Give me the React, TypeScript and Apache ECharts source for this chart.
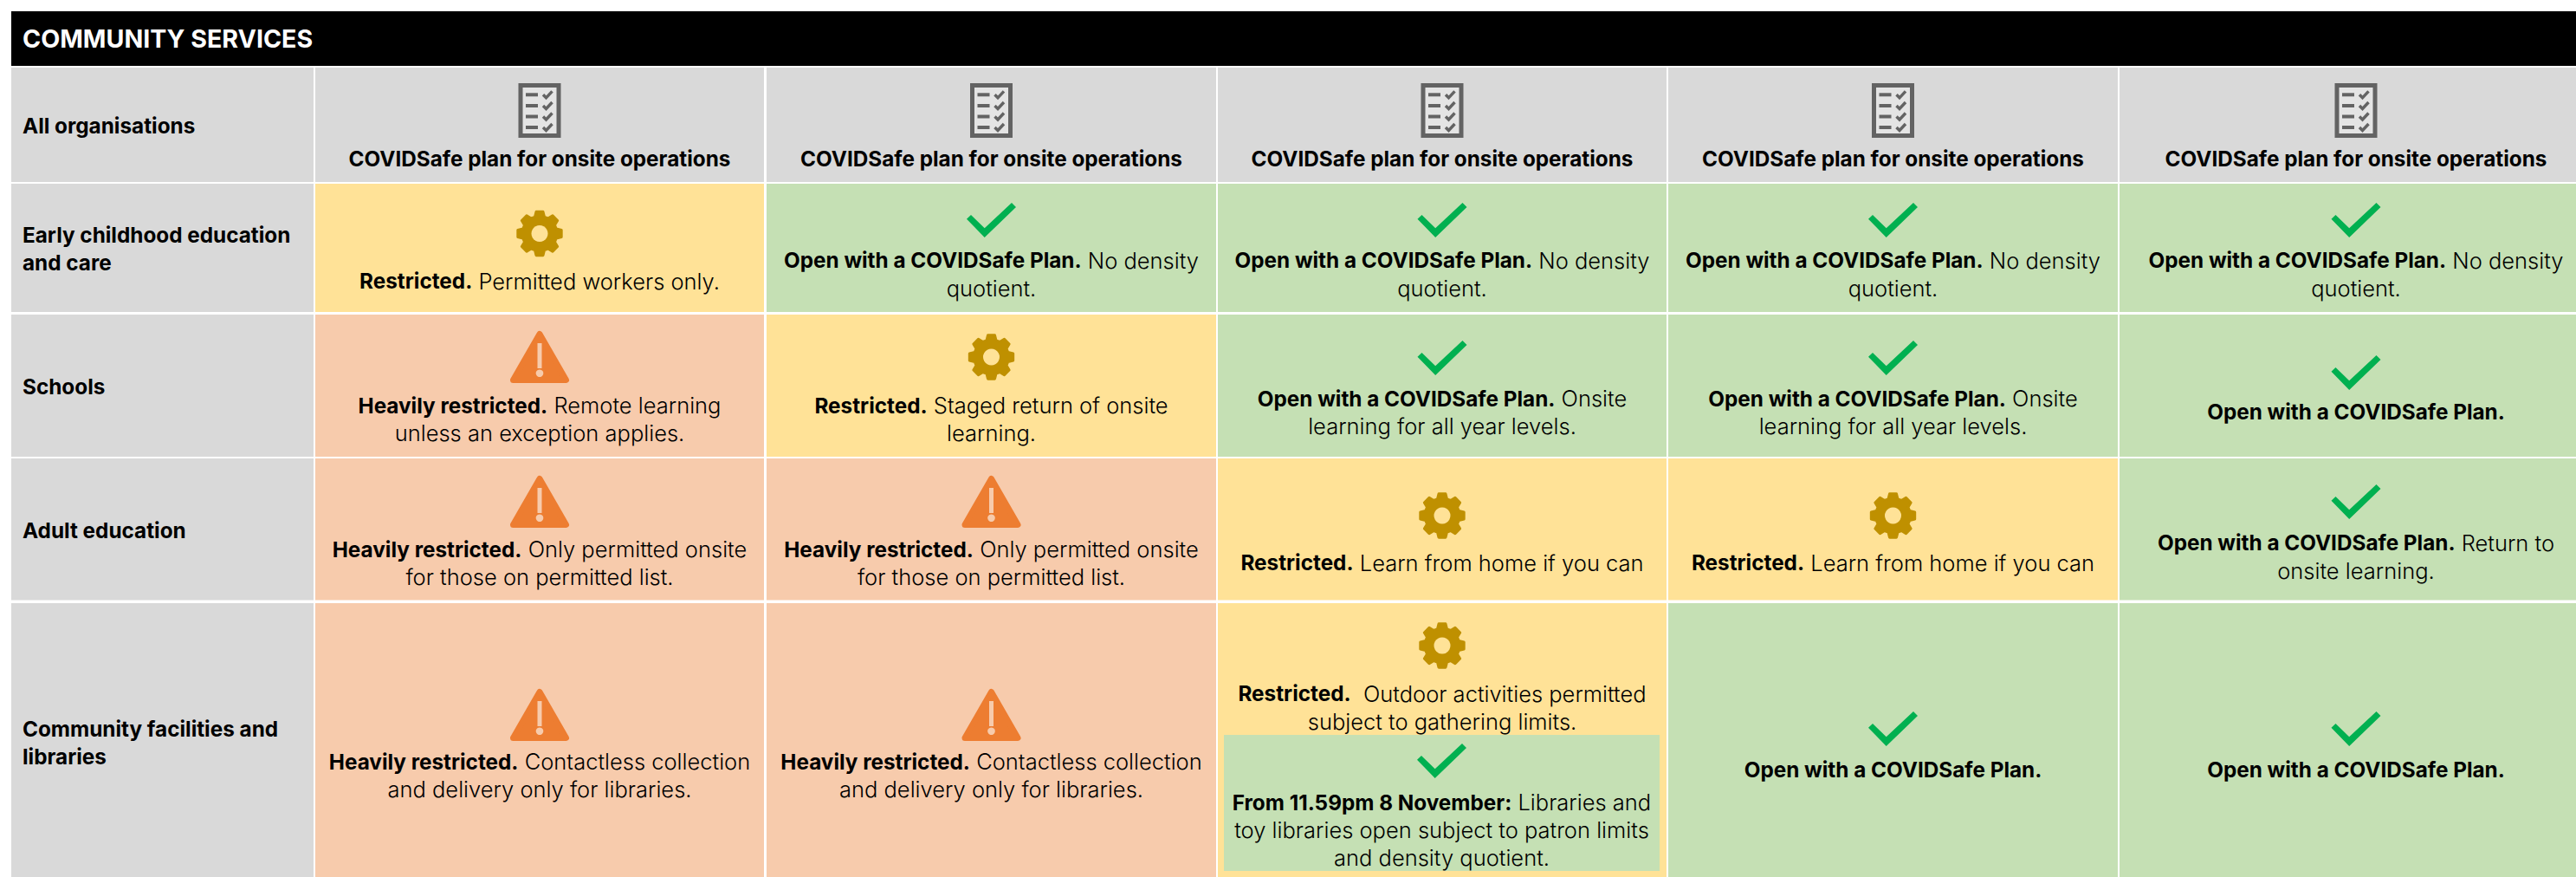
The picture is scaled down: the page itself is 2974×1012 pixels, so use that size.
import React, { useEffect, useRef } from "react";
import * as echarts from "echarts";

// ---------- data ----------
const title = "COMMUNITY SERVICES";
const rowLabels = [
  ["All organisations"],
  ["Early childhood education", "and care"],
  ["Schools"],
  ["Adult education"],
  ["Community facilities and", "libraries"],
];
const PLAN = "{b|COVIDSafe plan for onsite operations}";
const NO_DENSITY = "{b|Open with a COVIDSafe Plan.}{r| No density}\n{r|quotient.}";
const ONSITE_ALL = "{b|Open with a COVIDSafe Plan.}{r| Onsite}\n{r|learning for all year levels.}";
const OPEN_ONLY = "{b|Open with a COVIDSafe Plan.}";
const PERMITTED = "{b|Heavily restricted.}{r| Only permitted onsite}\n{r|for those on permitted list.}";
const HOME = "{b|Restricted.}{r| Learn from home if you can}";
const CONTACTLESS = "{b|Heavily restricted.}{r| Contactless collection}\n{r|and delivery only for libraries.}";

const allOrganisationsText = [PLAN, PLAN, PLAN, PLAN, PLAN];
const earlyChildhoodText = ["{b|Restricted.}{r| Permitted workers only.}", NO_DENSITY, NO_DENSITY, NO_DENSITY, NO_DENSITY];
const schoolsText = [
  "{b|Heavily restricted.}{r| Remote learning}\n{r|unless an exception applies.}",
  "{b|Restricted.}{r| Staged return of onsite}\n{r|learning.}",
  ONSITE_ALL,
  ONSITE_ALL,
  OPEN_ONLY,
];
const adultEducationText = [
  PERMITTED,
  PERMITTED,
  HOME,
  HOME,
  "{b|Open with a COVIDSafe Plan.}{r| Return to}\n{r|onsite learning.}",
];
const communityText = [
  CONTACTLESS,
  CONTACTLESS,
  "{b|Restricted.}{r|  Outdoor activities permitted}\n{r|subject to gathering limits.}",
  OPEN_ONLY,
  OPEN_ONLY,
];
const cellText = [allOrganisationsText, earlyChildhoodText, schoolsText, adultEducationText, communityText];

const allOrganisationsStatus = ["plan", "plan", "plan", "plan", "plan"];
const earlyChildhoodStatus = ["restricted", "open", "open", "open", "open"];
const schoolsStatus = ["heavy", "restricted", "open", "open", "open"];
const adultEducationStatus = ["heavy", "heavy", "restricted", "restricted", "open"];
const communityStatus = ["heavy", "heavy", "restricted", "open", "open"];
const cellStatus = [allOrganisationsStatus, earlyChildhoodStatus, schoolsStatus, adultEducationStatus, communityStatus];

const libraryNoteText =
  "{b|From 11.59pm 8 November:}{r| Libraries and}\n{r|toy libraries open subject to patron limits}\n{r|and density quotient.}";
const libraryNoteStatus = "open";

// ---------- layout ----------
const WIDTH = 2974;
const HEIGHT = 1012;
const columnEdges = [[13, 362], [364, 882], [885, 1404], [1406, 1924], [1926, 2445], [2447, 2993]];
const rowEdges = [[78, 210], [212, 360], [363, 527], [529, 692.5], [696, 1012]];
const titleBar = { x0: 13, x1: 2974, y0: 13, y1: 76, textX: 26, textY: 44 };
const labelX = 26;
const LINE = 32;
const labelY = [[144.5], [270.5, 302.5], [445.5], [611.5], [840.5, 872.5]];
const iconY = [
  [127.5, 127.5, 127.5, 127.5, 127.5],
  [269.5, 254, 254, 254, 254],
  [412, 412, 413, 413, 430],
  [579, 579, 595, 595, 579],
  [825, 825, 745, 841, 841],
];
const textY = [
  [182.5, 182.5, 182.5, 182.5, 182.5],
  [324, 300, 300, 300, 300],
  [467.5, 467.5, 459.5, 459.5, 474.5],
  [633.5, 633.5, 649, 649, 626],
  [878.5, 878.5, 800, 887.5, 887.5],
];
const note = { x0: 1413, x1: 1916, y0: 848, y1: 1005, iconY: 878, textY: 925.5 };

const FONT = "Inter";
const SIZE = 24.3;
const REGULAR_SIZE = 25.5;
const statusFill: Record<string, string> = { plan: "#D9D9D9", restricted: "#FFE297", open: "#C5E0B4", heavy: "#F7CBAC" };
const GREY = "#D9D9D9";
const rich = {
  b: { fontFamily: FONT, fontWeight: 700, fontSize: SIZE, fill: "#000" },
  r: { fontFamily: FONT, fontWeight: 300, fontSize: REGULAR_SIZE, fill: "#000" },
};

function textLines(text: string, cx: number, y0: number) {
  return text.split("\n").map((line, i) => ({
    type: "text",
    silent: true,
    style: { text: line, x: cx, y: y0 + i * LINE, align: "center", verticalAlign: "middle", rich, fontFamily: FONT, fontSize: SIZE },
  }));
}

function shift(points: number[][], x: number, y: number) {
  return points.map(([a, b]) => [a + x, b + y]);
}

const CHECK = [[-28.5, -1.3], [-23.5, -6], [-7.8, 9.3], [23.5, -20], [28.5, -15], [-7.8, 20]];
function checkIcon(x: number, y: number) {
  return [{ type: "polygon", silent: true, shape: { points: shift(CHECK, x, y) }, style: { fill: "#00B050" } }];
}

function gearPoints() {
  const pts: number[][] = [];
  for (let i = 0; i < 8; i++) {
    const a = -90 + i * 45;
    [[-16, 20], [-9, 25.5], [9, 25.5], [16, 20]].forEach(([d, r]) => {
      const t = ((a + d) * Math.PI) / 180;
      pts.push([Math.cos(t) * r, Math.sin(t) * r]);
    });
  }
  return pts;
}
const GEAR = gearPoints();
function gearIcon(x: number, y: number, bg: string) {
  return [
    { type: "polygon", silent: true, shape: { points: shift(GEAR, x, y) }, style: { fill: "#BF9000", stroke: "#BF9000", lineWidth: 3, lineJoin: "round" } },
    { type: "circle", silent: true, shape: { cx: x, cy: y, r: 9.5 }, style: { fill: bg } },
  ];
}

function warningIcon(x: number, y: number, bg: string) {
  return [
    { type: "polygon", silent: true, shape: { points: shift([[0, -26.5], [30.5, 26.5], [-30.5, 26.5]], x, y) }, style: { fill: "#ED7D31", stroke: "#ED7D31", lineWidth: 7, lineJoin: "round" } },
    { type: "rect", silent: true, shape: { x: x - 2.5, y: y - 16, width: 5, height: 29 }, style: { fill: bg } },
    { type: "circle", silent: true, shape: { cx: x, cy: y + 18.7, r: 4.3 }, style: { fill: bg } },
  ];
}

function planIcon(x: number, y: number) {
  const dark = "#636363";
  const out: any[] = [
    { type: "rect", silent: true, shape: { x: x - 22, y: y - 29, width: 44, height: 58 }, style: { fill: "#E4E4E4", stroke: dark, lineWidth: 5 } },
  ];
  [-18.2, -5.5, 7, 19.5].forEach((dy) => {
    out.push({ type: "rect", silent: true, shape: { x: x - 16, y: y + dy - 2, width: 14, height: 4 }, style: { fill: dark } });
    out.push({
      type: "polyline",
      silent: true,
      shape: { points: shift([[4, 0], [7.5, 3.5], [14.5, -4]], x, y + dy) },
      style: { fill: "none", stroke: dark, lineWidth: 3.4 },
    });
  });
  return out;
}

function iconFor(status: string, x: number, y: number) {
  const bg = statusFill[status];
  if (status === "plan") return planIcon(x, y);
  if (status === "open") return checkIcon(x, y);
  if (status === "restricted") return gearIcon(x, y, bg);
  return warningIcon(x, y, bg);
}

function rectFromAxes(api: any, x0: number, y0: number, x1: number, y1: number, fill: string) {
  const a = api.coord([x0, y0]);
  const b = api.coord([x1, y1]);
  return { type: "rect", silent: true, shape: { x: a[0], y: a[1], width: b[0] - a[0], height: b[1] - a[1] }, style: { fill } };
}

// [column, row]: column 0 is the row label, row -1 the title bar, column -1 the note inside a cell
const cells: number[][] = [[0, -1]];
rowLabels.forEach((_, r) => {
  for (let c = 0; c <= 5; c++) cells.push([c, r]);
});
cells.push([-1, 4]);

function renderCell(_: any, api: any) {
  const c = api.value(0);
  const r = api.value(1);
  if (r === -1) {
    const p = api.coord([titleBar.textX, titleBar.textY]);
    return {
      type: "group",
      children: [
        rectFromAxes(api, titleBar.x0, titleBar.y0, titleBar.x1, titleBar.y1, "#000000"),
        {
          type: "text",
          silent: true,
          style: { text: title, x: p[0], y: p[1], align: "left", verticalAlign: "middle", fontFamily: FONT, fontWeight: 700, fontSize: 28.6, fill: "#fff" },
        },
      ],
    };
  }
  if (c === -1) {
    const cx = api.coord([(note.x0 + note.x1) / 2, 0])[0];
    return {
      type: "group",
      children: [
        rectFromAxes(api, note.x0, note.y0, note.x1, note.y1, statusFill[libraryNoteStatus]),
        ...iconFor(libraryNoteStatus, cx, api.coord([0, note.iconY])[1]),
        ...textLines(libraryNoteText, cx, api.coord([0, note.textY])[1]),
      ],
    };
  }
  const [x0, x1] = columnEdges[c];
  const [y0, y1] = rowEdges[r];
  if (c === 0) {
    const tx = api.coord([labelX, 0])[0];
    return {
      type: "group",
      children: [
        rectFromAxes(api, x0, y0, x1, y1, GREY),
        ...rowLabels[r].map((line, i) => ({
          type: "text",
          silent: true,
          style: { text: line, x: tx, y: api.coord([0, labelY[r][i]])[1], align: "left", verticalAlign: "middle", fontFamily: FONT, fontWeight: 700, fontSize: SIZE, fill: "#000" },
        })),
      ],
    };
  }
  const status = cellStatus[r][c - 1];
  const cx = api.coord([(x0 + x1) / 2, 0])[0];
  return {
    type: "group",
    children: [
      rectFromAxes(api, x0, y0, x1, y1, statusFill[status]),
      ...iconFor(status, cx, api.coord([0, iconY[r][c - 1]])[1]),
      ...textLines(cellText[r][c - 1], cx, api.coord([0, textY[r][c - 1]])[1]),
    ],
  };
}

export default function App() {
  const ref = useRef<HTMLDivElement>(null);
  useEffect(() => {
    document.body.style.margin = "0";
    const chart = echarts.init(ref.current!, undefined, { renderer: "svg" });
    chart.setOption({
      animation: false,
      backgroundColor: "#FFFFFF",
      grid: { left: 0, right: 0, top: 0, bottom: 0 },
      xAxis: { type: "value", min: 0, max: WIDTH, show: false },
      yAxis: { type: "value", min: 0, max: HEIGHT, inverse: true, show: false },
      series: [
        {
          type: "custom",
          coordinateSystem: "cartesian2d",
          clip: false,
          silent: true,
          renderItem: renderCell,
          encode: { x: 0, y: 1 },
          data: cells,
        },
      ],
    });
    return () => chart.dispose();
  }, []);
  return <div ref={ref} style={{ position: "absolute", left: 0, top: 0, width: WIDTH, height: HEIGHT, overflow: "hidden" }} />;
}
